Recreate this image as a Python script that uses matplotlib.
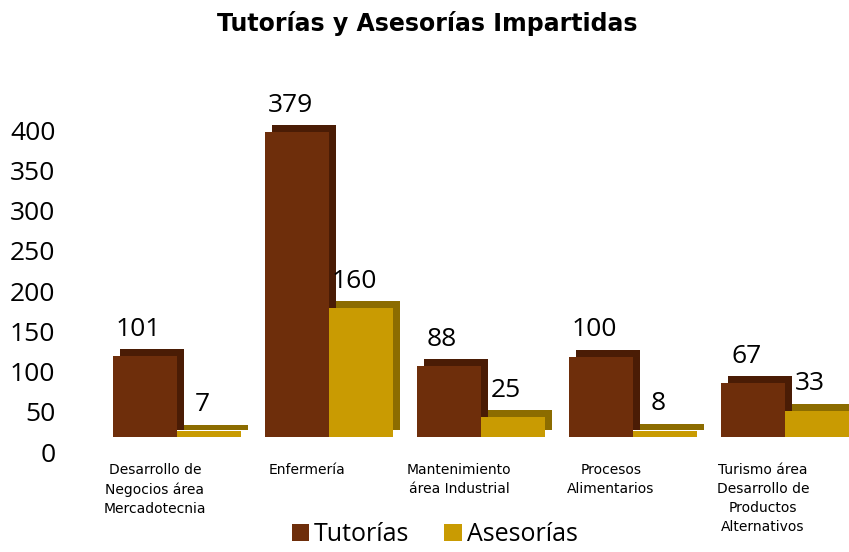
import numpy as np
import matplotlib
matplotlib.use("Agg")
import matplotlib.pyplot as plt
import matplotlib.patheffects as pe
from matplotlib.transforms import ScaledTranslation

#Data
categorias = ["Desarrollo de\nNegocios área\nMercadotecnia", "Enfermería",
              "Mantenimiento\nárea Industrial", "Procesos\nAlimentarios",
              "Turismo área\nDesarrollo de\nProductos\nAlternativos"]
tutorias = [101, 379, 88, 100, 67]
asesorias = [7, 160, 25, 8, 33]
series_names = ["Tutorías", "Asesorías"]

plt.rcParams['font.family'] = ['Open Sans', 'DejaVu Sans']

fig = plt.figure(figsize=(8.49, 5.52), dpi=100)
ax = fig.add_axes([0.093, 0.181, 0.895, 0.583])

x = np.arange(len(categorias))
w = 0.42
cols = ["#6E2E0B", "#C99B02"]
dark = ["#4A1C05", "#8C6C00"]

#3D look: shift bars a bit up/right and draw a dark "depth" shadow
shift = ScaledTranslation(0.22, 0.15, fig.dpi_scale_trans)
for i, (vals, off) in enumerate([(tutorias, -w/2), (asesorias, w/2)]):
    bars = ax.bar(x + off, vals, w, color=cols[i], label=series_names[i], clip_on=False)
    for b in bars:
        b.set_transform(ax.transData + shift)
        b.set_path_effects([pe.SimplePatchShadow(offset=(5, 5), shadow_rgbFace=dark[i], alpha=1),
                            pe.Normal()])
    for xi, v in zip(x + off, vals):
        ax.annotate(str(v), (xi, v), xytext=(11, 21), textcoords="offset points",
                    ha="center", va="bottom", fontsize=19, annotation_clip=False)

ax.set_xlim(-0.5, 4.5)
ax.set_ylim(0, 400)
ax.set_yticks(range(0, 401, 50))
ax.set_xticks(x)
ax.set_xticklabels(categorias, fontsize=10, family=['DejaVu Sans'], linespacing=1.45)
ax.tick_params(axis="x", length=0, pad=8)
ax.tick_params(axis="y", length=0, pad=17, labelsize=19)
for s in ax.spines.values():
    s.set_visible(False)

fig.text(0.503, 0.958, "Tutorías y Asesorías Impartidas", ha="center", va="center",
         fontsize=17, fontweight="bold", family=['DejaVu Sans'])

leg = fig.legend(loc="lower center", bbox_to_anchor=(0.512, -0.032), ncol=2, frameon=False,
                 fontsize=18, handlelength=0.7, handleheight=0.7, handletextpad=0.2,
                 columnspacing=1.4)
for h in leg.legend_handles:
    h.set_path_effects([])

fig.savefig("out.png", dpi=100)
